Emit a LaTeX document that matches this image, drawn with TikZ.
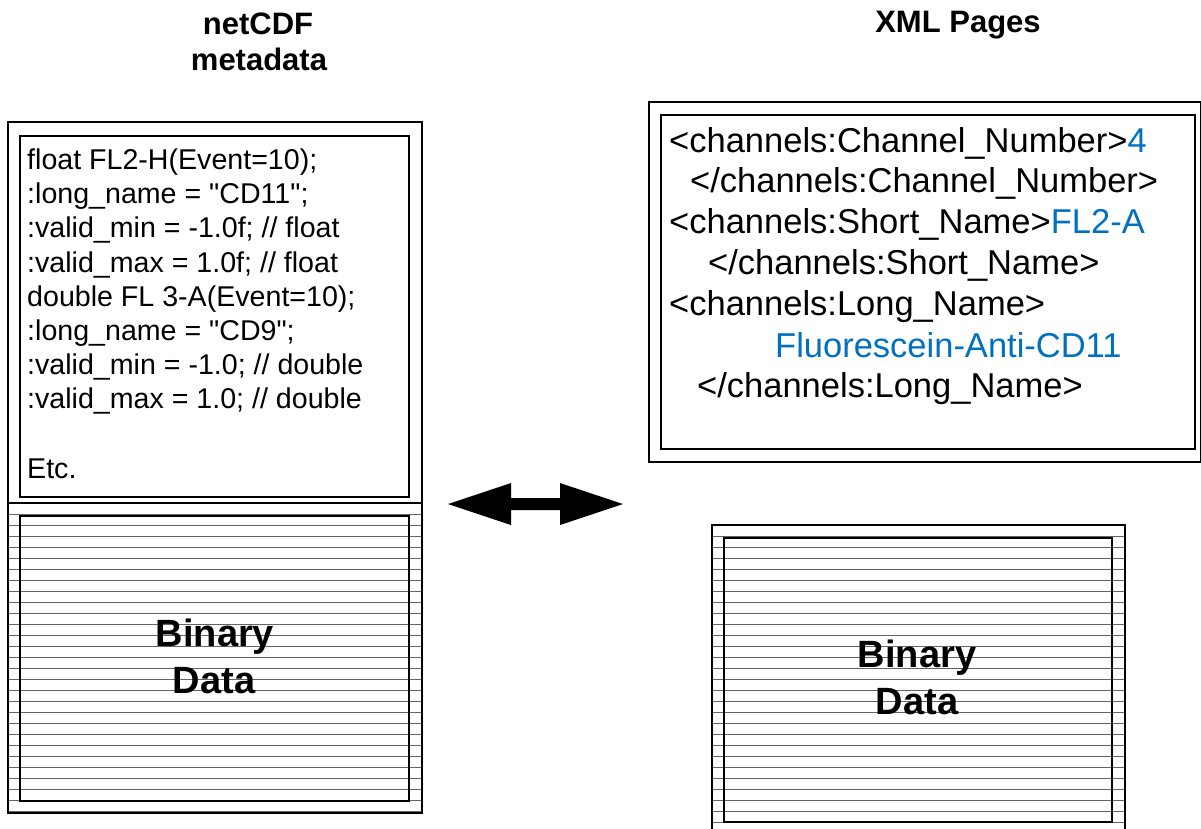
\documentclass[tikz,border=0pt]{standalone}
\usepackage{fontspec}
\setmainfont{Liberation Sans}
\definecolor{xmlblue}{RGB}{0,112,192}
\definecolor{hatchgray}{RGB}{100,100,100}
\begin{document}
\begin{tikzpicture}[x=1pt,y=-1pt,
  box/.style={draw=black,line width=1.5pt},
  hatch/.style={draw=hatchgray,line width=1pt},
  title/.style={inner sep=0pt,anchor=base,font=\fontsize{31}{36}\selectfont\bfseries},
  meta/.style={inner sep=0pt,anchor=base west,font=\fontsize{28.6}{34}\selectfont},
  xml/.style={inner sep=0pt,anchor=base west,font=\fontsize{34.5}{40}\selectfont},
  bin/.style={inner sep=0pt,anchor=base,font=\fontsize{38}{46}\selectfont\bfseries}]
\useasboundingbox (0,0) rectangle (1201,828);
\fill[white] (0,0) rectangle (1201,828);

% titles
\node[title] (tnet) at (258,34) {netCDF};
\node[title] (tmeta) at (259,70) {metadata};
\node[title] (txml) at (958,32) {XML Pages};

% left hatching
\foreach \k in {0,...,27}
  \draw[hatch] (8,{514+11*\k}) -- (422,{514+11*\k});
% right hatching
\foreach \k in {0,...,26}
  \draw[hatch] (712,{536+11*\k}) -- (1125,{536+11*\k});

% left boxes
\draw[box] (8,122) rectangle (422,813);
\draw[box] (20,136) rectangle (409,497);
\draw[box] (8,503) -- (422,503);
\draw[box] (20,516) rectangle (409,801);

% right XML boxes
\draw[box] (649,102) rectangle (1201,462);
\draw[box] (661,115) rectangle (1195,449);

% right binary boxes
\draw[box] (712,830) -- (712,525) -- (1125,525) -- (1125,830);
\draw[box] (724,538) rectangle (1112,822);

% netCDF metadata text
\node[meta] (m1) at (27,169) {float FL2-H(Event=10);};
\node[meta] (m2) at (27,203) {:long\_name = \textquotedbl CD11\textquotedbl;};
\node[meta] (m3) at (27,237) {:valid\_min = -1.0f; // float};
\node[meta] (m4) at (27,272) {:valid\_max = 1.0f; // float};
\node[meta] (m5) at (27,306) {double FL 3-A(Event=10);};
\node[meta] (m6) at (27,340) {:long\_name = \textquotedbl CD9\textquotedbl;};
\node[meta] (m7) at (27,374) {:valid\_min = -1.0; // double};
\node[meta] (m8) at (27,408) {:valid\_max = 1.0; // double};
\node[meta] (m9) at (27,478) {Etc.};

% XML text
\node[xml] (x1) at (669,152) {<channels:Channel\_Number>\textcolor{xmlblue}{4}};
\node[xml] (x2) at (690,192) {</channels:Channel\_Number>};
\node[xml] (x3) at (669,233) {<channels:Short\_Name>\textcolor{xmlblue}{FL2-A}};
\node[xml] (x4) at (708,274) {</channels:Short\_Name>};
\node[xml] (x5) at (669,315) {<channels:Long\_Name>};
\node[xml] (x6) at (775,357) {\textcolor{xmlblue}{Fluorescein-Anti-CD11}};
\node[xml] (x7) at (697,397) {</channels:Long\_Name>};

% binary data labels
\node[bin] (lb1) at (215,646) {Binary};
\node[bin] (lb2) at (214,693) {Data};
\node[bin] (rb1) at (917,667) {Binary};
\node[bin] (rb2) at (917,714) {Data};

% double arrow
\coordinate (aL) at (448,504);
\coordinate (aR) at (623,504);
\fill[black] (aL) -- ++(63,-21) -- ++(0,15) -- ++(49,0) -- ++(0,-15) -- (aR)
  -- ++(-63,21) -- ++(0,-15) -- ++(-49,0) -- ++(0,15) -- cycle;
\end{tikzpicture}
\end{document}
